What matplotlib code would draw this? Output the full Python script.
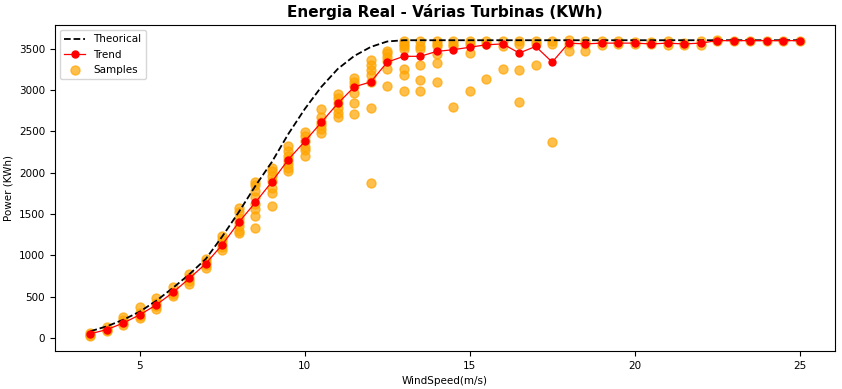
import numpy as np
import matplotlib
matplotlib.use('Agg')
import matplotlib.pyplot as plt

# wind speed bins (m/s)
wind = [3.5, 4, 4.5, 5, 5.5, 6, 6.5, 7, 7.5, 8, 8.5, 9, 9.5, 10, 10.5, 11,
        11.5, 12, 12.5, 13, 13.5, 14, 14.5, 15, 15.5, 16, 16.5, 17, 17.5, 18,
        18.5, 19, 19.5, 20, 20.5, 21, 21.5, 22, 22.5, 23, 23.5, 24, 24.5, 25]

# theoretical power curve
theorical = [80, 140, 220, 318, 450, 605, 770, 957, 1230, 1525, 1840, 2130,
             2470, 2773, 3040, 3258, 3415, 3524, 3590, 3605, 3605, 3605, 3605,
             3605, 3605, 3605, 3605, 3605, 3605, 3605, 3605, 3605, 3605, 3605,
             3605, 3605, 3605, 3605, 3605, 3605, 3605, 3605, 3605, 3605]

# mean of the measured samples per bin
trend = [50, 100, 180, 280, 400, 550, 720, 900, 1130, 1400, 1640, 1890, 2160,
         2380, 2610, 2840, 3040, 3100, 3340, 3410, 3410, 3470, 3490, 3520,
         3550, 3560, 3450, 3530, 3340, 3570, 3560, 3570, 3570, 3570, 3560,
         3570, 3560, 3570, 3600, 3600, 3600, 3600, 3600, 3600]

# measured samples, one list per bin
samples = [
    [20, 40, 60],
    [80, 100, 130],
    [150, 180, 220, 250],
    [240, 270, 300, 370],
    [350, 380, 420, 480],
    [510, 530, 560, 610],
    [650, 690, 730, 770],
    [850, 880, 920, 950],
    [1070, 1100, 1140, 1180, 1230],
    [1270, 1300, 1350, 1400, 1450, 1520, 1570],
    [1330, 1480, 1560, 1620, 1700, 1780, 1850, 1890],
    [1600, 1760, 1820, 1900, 1960, 2020, 2060],
    [2020, 2060, 2100, 2150, 2200, 2260, 2320],
    [2200, 2270, 2310, 2380, 2440, 2490],
    [2480, 2530, 2580, 2620, 2670, 2770],
    [2680, 2720, 2790, 2850, 2900, 2950],
    [2710, 2850, 2970, 3050, 3100, 3150],
    [1880, 2790, 3100, 3180, 3250, 3300, 3360],
    [3050, 3260, 3350, 3400, 3450, 3480],
    [2990, 3180, 3260, 3500, 3530, 3560, 3600],
    [2990, 3120, 3300, 3500, 3540, 3590],
    [3100, 3330, 3440, 3530, 3560, 3600],
    [2800, 3530, 3560, 3600],
    [2990, 3450, 3560, 3600],
    [3130, 3560, 3600],
    [3260, 3540, 3600],
    [2860, 3240, 3560, 3600],
    [3300, 3560, 3600],
    [2370, 3560, 3600],
    [3470, 3560, 3610],
    [3470, 3560, 3600],
    [3550, 3600],
    [3560, 3600],
    [3560, 3580],
    [3560, 3580],
    [3550, 3600],
    [3550, 3570],
    [3550, 3600],
    [3590, 3610],
    [3600],
    [3600],
    [3600],
    [3600],
    [3600],
]

sx = [w for w, s in zip(wind, samples) for _ in s]
sy = [v for s in samples for v in s]

fig = plt.figure(figsize=(8.42, 3.89), dpi=100)
ax = fig.add_axes([55/842, 38/389, 780/842, 326/389])

ax.plot(wind, theorical, 'k--', linewidth=1.3, label='Theorical', zorder=3)
ax.plot(wind, trend, 'r-o', linewidth=0.9, markersize=5, label='Trend', zorder=4)
ax.scatter(sx, sy, s=42, color='orange', alpha=0.7, label='Samples', zorder=2)

ax.set_title('Energia Real - Várias Turbinas (KWh)', fontsize=11, fontweight='bold')
ax.set_xlabel('WindSpeed(m/s)', fontsize=7.5)
ax.set_ylabel('Power (KWh)', fontsize=7.5)
ax.tick_params(labelsize=7.5)
ax.set_xticks([5, 10, 15, 20, 25])
ax.legend(loc='upper left', fontsize=7.5)

fig.savefig('out.png', dpi=100)
plt.close('all')
